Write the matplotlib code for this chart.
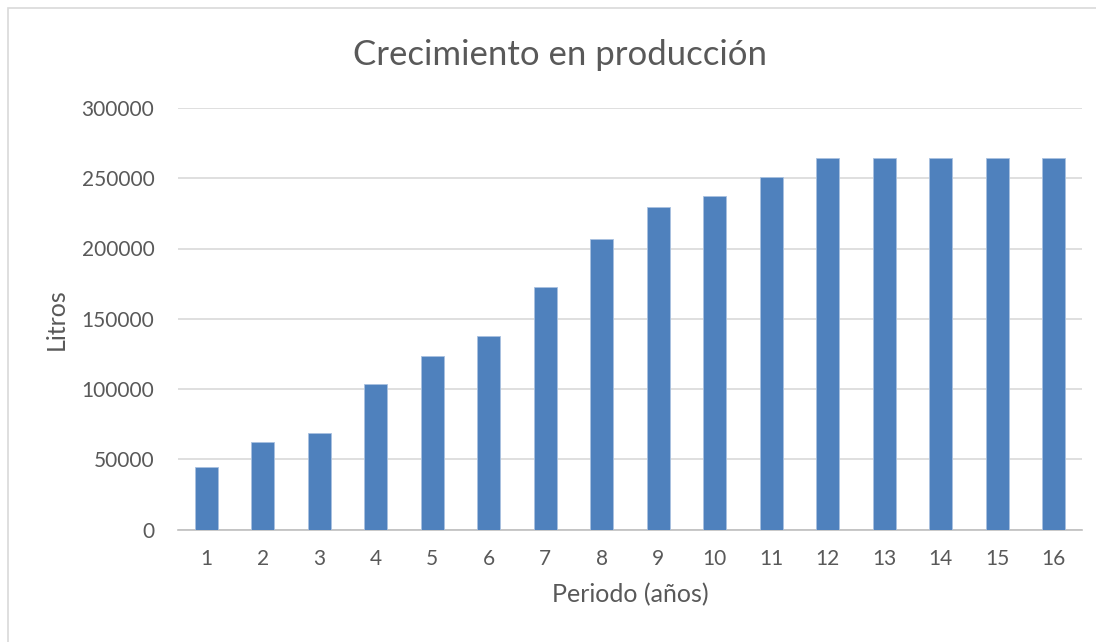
import matplotlib
matplotlib.use("Agg")
import matplotlib.pyplot as plt
from matplotlib.patches import Rectangle
import numpy as np

# production per year, litres
periodos = [str(i) for i in range(1, 17)]
litros = [44300, 62000, 68500, 103400, 123800, 137900, 172600, 206600,
          229700, 237700, 251200, 264500, 264500, 264500, 264500, 264500]
y_ticks = [0, 50000, 100000, 150000, 200000, 250000, 300000]

plt.rcParams['font.family'] = ['Lato', 'DejaVu Sans']
text_color = '#595959'

fig = plt.figure(figsize=(10.96, 6.42), dpi=100)
# light chart frame, only its top and left edges fall inside the image
fig.patches.append(Rectangle((8 / 1096, -0.1), 1.2, 1.1 - 8 / 642,
                             transform=fig.transFigure, fill=False,
                             edgecolor='#d9d9d9', linewidth=1.2))

ax = fig.add_axes([178 / 1096, 112.5 / 642, 904 / 1096, 421.5 / 642])
x = np.arange(len(periodos))
ax.bar(x, litros, width=0.4, color='#4f81bd', edgecolor='#a9c1e0',
       linewidth=0.6, zorder=3)

ax.set_xlim(-0.5, len(periodos) - 0.5)
ax.set_ylim(0, 300000)
ax.set_yticks(y_ticks)
ax.set_yticklabels([str(v) for v in y_ticks])
ax.set_xticks(x)
ax.set_xticklabels(periodos)
ax.yaxis.grid(True, color='#d9d9d9', linewidth=1.2, zorder=0)
ax.tick_params(axis='both', length=0, labelsize=15, labelcolor=text_color)
ax.tick_params(axis='x', pad=14)
ax.tick_params(axis='y', pad=17)

for side in ['top', 'right', 'left']:
    ax.spines[side].set_visible(False)
ax.spines['bottom'].set_color('#bfbfbf')
ax.spines['bottom'].set_linewidth(1.2)

ax.set_xlabel('Periodo (años)', fontsize=18, color=text_color, labelpad=10)
ax.set_ylabel('Litros', fontsize=18, color=text_color, labelpad=10)
fig.text(560 / 1096, 1 - 55 / 642, 'Crecimiento en producción', ha='center',
         va='center', fontsize=25, color=text_color)

fig.savefig('out.png', dpi=100)
